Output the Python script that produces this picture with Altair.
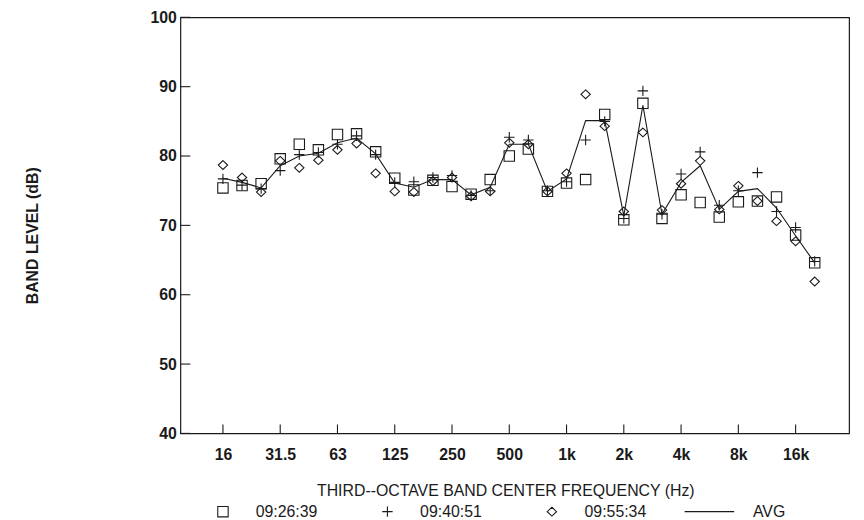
import json
import altair as alt
import pandas as pd

bands = ["16", "20", "25", "31.5", "40", "50", "63", "80", "100", "125", "160", "200",
         "250", "315", "400", "500", "630", "800", "1k", "1.25k", "1.6k", "2k", "2.5k",
         "3.15k", "4k", "5k", "6.3k", "8k", "10k", "12.5k", "16k", "20k"]

run_a = [75.4, 75.75, 76.0, 79.6, 81.7, 80.9, 83.1, 83.2, 80.6, 76.8, 75.1, 76.5,
         75.6, 74.5, 76.6, 80.0, 81.0, 74.9, 76.1, 76.6, 86.0, 70.8, 87.6,
         71.0, 74.4, 73.3, 71.2, 73.4, 73.5, 74.1, 68.6, 64.6]
run_b = [76.7, 75.8, 75.3, 77.9, 80.2, 80.5, 81.7, 82.9, 80.2, 76.2, 76.3, 76.9,
         77.2, 74.3, 75.0, 82.7, 82.3, 75.0, 76.3, 82.3, 85.0, 71.0, 89.4,
         71.6, 77.4, 80.6, 72.9, 75.0, 77.6, 72.0, 69.7, 64.8]
run_c = [78.7, 76.9, 74.8, 79.3, 78.3, 79.4, 80.9, 81.8, 77.5, 74.9, 74.8, 76.4,
         76.9, 74.2, 74.9, 81.9, 81.7, 74.9, 77.5, 88.9, 84.3, 72.0, 83.4,
         72.2, 76.0, 79.3, 72.3, 75.7, 73.5, 70.6, 67.7, 61.9]
avg = [76.8, 76.2, 75.4, 78.6, 80.0, 80.4, 81.9, 82.6, 80.3, 76.1, 75.5, 76.6,
       76.6, 74.4, 75.5, 81.7, 81.7, 74.9, 76.7, 85.1, 85.1, 71.4, 87.3,
       71.6, 76.2, 78.6, 72.3, 74.9, 75.3, 72.5, 68.5, 64.6]

run_names = ["09:26:39", "09:40:51", "09:55:34"]
avg_name = "AVG"
x_tick_idx = [0, 3, 6, 9, 12, 15, 18, 21, 24, 27, 30]
y_ticks = [40, 50, 60, 70, 80, 90, 100]

rows = []
for name, vals in zip(run_names, [run_a, run_b, run_c]):
    for i, v in enumerate(vals):
        rows.append({"idx": i, "band": bands[i], "level": v, "run": name})
pts = pd.DataFrame(rows)
avg_df = pd.DataFrame({"idx": list(range(len(bands))), "band": bands, "level": avg,
                       "series": [avg_name] * len(bands)})

W, H = 675, 420
FONT = "Liberation Sans"
INK = "#1a1a1a"

xscale = alt.Scale(domain=[-2.23, 32.8], nice=False, zero=False)
yscale = alt.Scale(domain=[40, 100], nice=False, zero=False)

label_expr = json.dumps(bands) + "[datum.value]"

x_axis = alt.Axis(values=x_tick_idx, labelExpr=label_expr, ticks=False, tickSize=0,
                  domain=False, grid=False, labelFont=FONT, labelFontSize=16,
                  labelFontWeight="bold", labelColor=INK, labelPadding=13,
                  title="THIRD--OCTAVE BAND CENTER FREQUENCY (Hz)", titleFont=FONT,
                  titleFontSize=16, titleFontWeight="normal", titleColor=INK,
                  titleX=328, titleY=58, titleBaseline="middle", titleAnchor="middle")
y_axis = alt.Axis(values=y_ticks, ticks=False, tickSize=0, domain=False, grid=False,
                  labelFont=FONT, labelFontSize=16, labelFontWeight="bold",
                  labelColor=INK, labelPadding=4,
                  title="BAND LEVEL (dB)", titleFont=FONT, titleFontSize=16,
                  titleFontWeight="bold", titleColor=INK, titleX=-149, titleY=220,
                  titleBaseline="middle", titleAngle=270)

shape_range = [
    "M-1,-1H1V1H-1Z",
    "M-1,0H1M0,-1V1",
    "M0,-0.85L0.9,0L0,0.85L-0.9,0Z",
]

points = alt.Chart(pts).mark_point(filled=False, size=110, strokeWidth=1.1, color=INK, opacity=1).encode(
    x=alt.X("idx:Q", scale=xscale, axis=x_axis),
    y=alt.Y("level:Q", scale=yscale, axis=y_axis),
    shape=alt.Shape("run:N", scale=alt.Scale(domain=run_names, range=shape_range),
                    legend=alt.Legend(title=None, orient="none", legendX=35, legendY=491,
                                      direction="horizontal", columns=3, symbolSize=110,
                                      symbolStrokeWidth=1.1, symbolStrokeColor=INK,
                                      symbolFillColor="transparent",
                                      labelFont=FONT, labelFontSize=16, labelColor=INK,
                                      labelOffset=25, columnPadding=62, padding=0)),
)

line = alt.Chart(avg_df).mark_line(strokeWidth=1.1).encode(
    x=alt.X("idx:Q", scale=xscale),
    y=alt.Y("level:Q", scale=yscale),
    color=alt.Color("series:N", scale=alt.Scale(domain=[avg_name], range=[INK]),
                    legend=alt.Legend(title=None, orient="none", legendX=508, legendY=473,
                                      symbolType="stroke", symbolSize=2500,
                                      symbolStrokeWidth=1.1, symbolStrokeColor=INK,
                                      labelFont=FONT, labelFontSize=16, labelColor=INK,
                                      labelOffset=18, padding=0)),
)

ytick_df = pd.DataFrame({"level": y_ticks})
xtick_df = pd.DataFrame({"idx": x_tick_idx})

yticks = alt.Chart(ytick_df).mark_rule(color=INK, strokeWidth=1.1).encode(
    y=alt.Y("level:Q", scale=yscale),
    x=alt.value(0), x2=alt.value(10),
)
xticks = alt.Chart(xtick_df).mark_rule(color=INK, strokeWidth=1.1).encode(
    x=alt.X("idx:Q", scale=xscale),
    y=alt.value(H), y2=alt.value(H - 9),
)

chart = alt.layer(points, line, yticks, xticks).properties(
    width=W, height=H,
    autosize=alt.AutoSizeParams(type="none"),
    padding={"left": 174, "top": 7, "right": 7, "bottom": 85},
    background="white",
).configure_view(stroke=INK, strokeWidth=1.2)

chart.save("out.html", embed_options={"renderer": "svg", "actions": False})
